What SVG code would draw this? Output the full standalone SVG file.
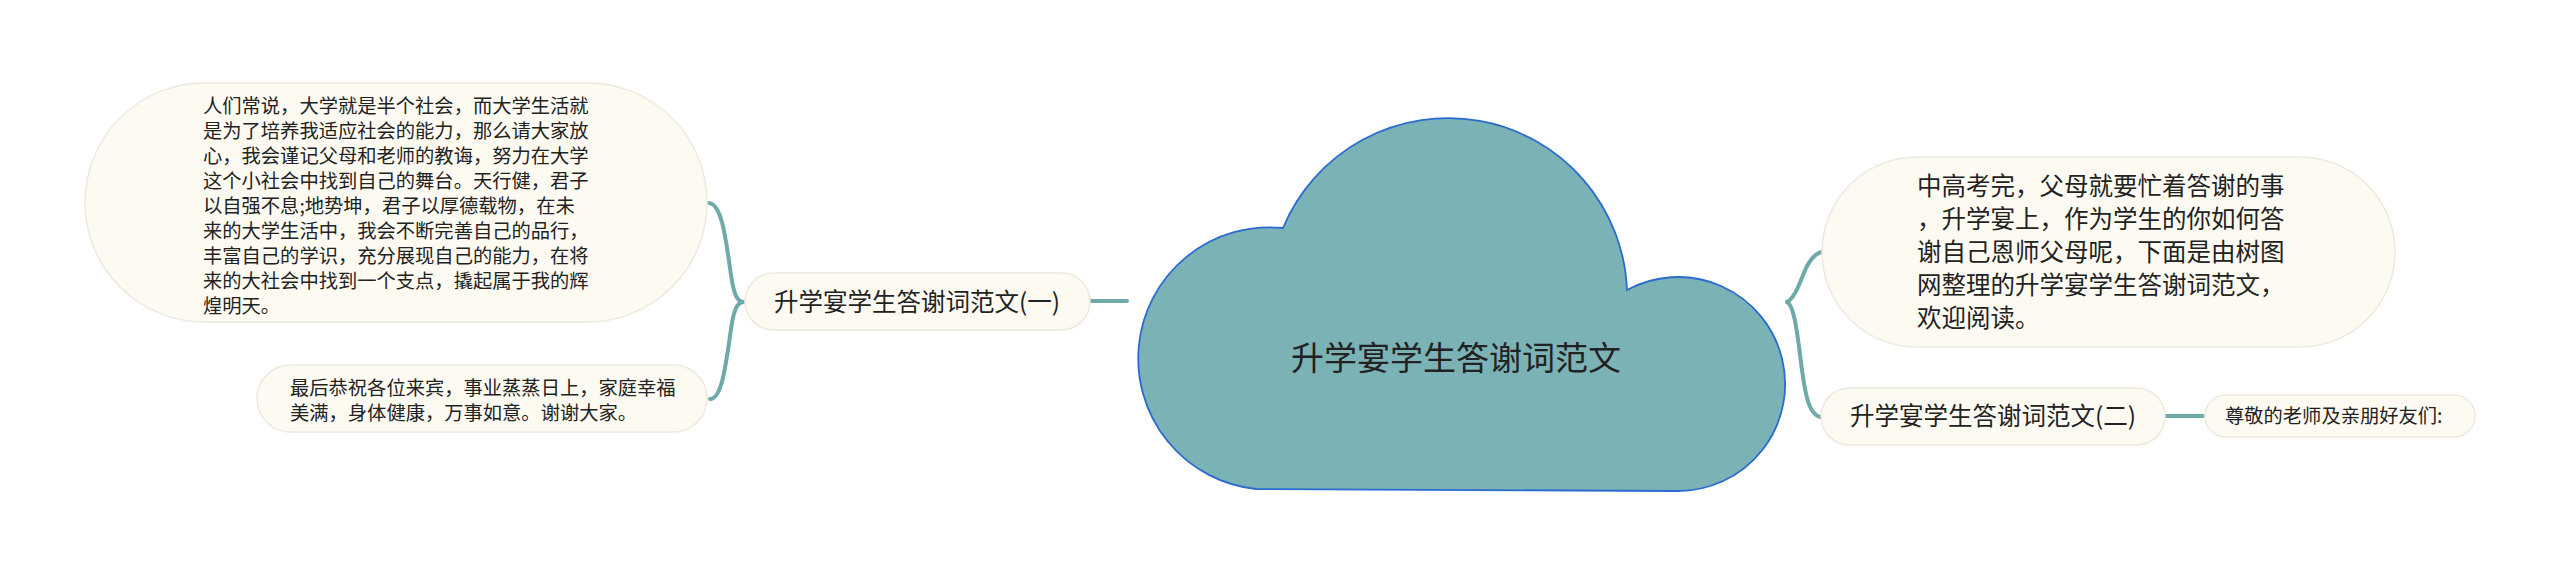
<svg xmlns="http://www.w3.org/2000/svg" width="2560" height="571" viewBox="0 0 2560 571">
<style>
.bub{fill:#fcfaf1;stroke:#ece9df;stroke-width:1.5}
.t{font-family:"Noto Sans CJK SC","Noto Sans",sans-serif;fill:#222}
.s{font-size:19.3px}
.m{font-size:24.5px}
.con{fill:none;stroke:#6fa9aa;stroke-width:4;stroke-linecap:round}
</style>
<rect width="2560" height="571" fill="#ffffff"/>
<g id="connectors">
<path class="con" d="M1090 301 L1127 301"/>
<path class="con" d="M743 302 C737 301,734 295,731 275 C726 240,722 204,709 203"/>
<path class="con" d="M743 302 C737 303,734 309,731 329 C726 364,722 399,710 399"/>
<path class="con" d="M1787 302 C1795 298,1800 282,1806 268 C1811 258,1816 253,1822 252"/>
<path class="con" d="M1787 302 C1795 306,1798 340,1802 370 C1806 400,1810 414,1820 417"/>
<path class="con" d="M2165 416 L2203 416"/>
</g>
<g id="root">
<path d="M1283 228 A179 179 0 0 1 1627 290 A107 107 0 1 1 1678 491 L1256 489 A131 131 0 1 1 1283 228 Z" fill="#7bb2b5" stroke="#2a6bd0" stroke-width="1.8"/>
<text class="t" x="1456" y="370" font-size="33" text-anchor="middle">升学宴学生答谢词范文</text>
</g>
<g id="n1">
<rect class="bub" x="745" y="273" width="345" height="57" rx="28.5"/>
<text class="t m" x="917" y="311" text-anchor="middle">升学宴学生答谢词范文(一)</text>
</g>
<g id="n1a">
<rect class="bub" x="85" y="83" width="622" height="239" rx="119.5"/>
<text class="t s">
<tspan x="203" y="113">人们常说，大学就是半个社会，而大学生活就</tspan>
<tspan x="203" y="138">是为了培养我适应社会的能力，那么请大家放</tspan>
<tspan x="203" y="163">心，我会谨记父母和老师的教诲，努力在大学</tspan>
<tspan x="203" y="188">这个小社会中找到自己的舞台。天行健，君子</tspan>
<tspan x="203" y="213">以自强不息;地势坤，君子以厚德载物，在未</tspan>
<tspan x="203" y="238">来的大学生活中，我会不断完善自己的品行，</tspan>
<tspan x="203" y="263">丰富自己的学识，充分展现自己的能力，在将</tspan>
<tspan x="203" y="288">来的大社会中找到一个支点，撬起属于我的辉</tspan>
<tspan x="203" y="313">煌明天。</tspan>
</text>
</g>
<g id="n1b">
<rect class="bub" x="257" y="365" width="450" height="67" rx="33.5"/>
<text class="t s">
<tspan x="290" y="395">最后恭祝各位来宾，事业蒸蒸日上，家庭幸福</tspan>
<tspan x="290" y="420">美满，身体健康，万事如意。谢谢大家。</tspan>
</text>
</g>
<g id="n2">
<rect class="bub" x="1822" y="157" width="573" height="190" rx="95"/>
<text class="t m">
<tspan x="1917" y="195">中高考完，父母就要忙着答谢的事</tspan>
<tspan x="1917" y="228">，升学宴上，作为学生的你如何答</tspan>
<tspan x="1917" y="261">谢自己恩师父母呢，下面是由树图</tspan>
<tspan x="1917" y="294">网整理的升学宴学生答谢词范文，</tspan>
<tspan x="1917" y="327">欢迎阅读。</tspan>
</text>
</g>
<g id="n3">
<rect class="bub" x="1821" y="388" width="344" height="57" rx="28.5"/>
<text class="t m" x="1993" y="425" text-anchor="middle">升学宴学生答谢词范文(二)</text>
</g>
<g id="n3a">
<rect class="bub" x="2205" y="395" width="270" height="42" rx="21"/>
<text class="t s" x="2225" y="423">尊敬的老师及亲朋好友们:</text>
</g>
</svg>
